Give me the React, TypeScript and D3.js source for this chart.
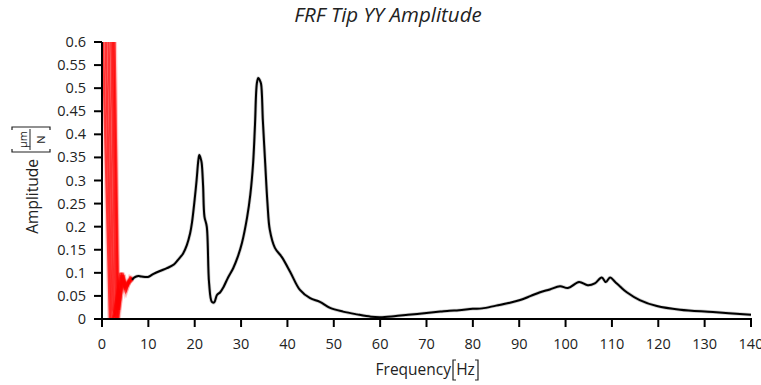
import React from "react";
import * as d3 from "d3";

const title = "FRF Tip YY Amplitude";
const xTicks = [0, 10, 20, 30, 40, 50, 60, 70, 80, 90, 100, 110, 120, 130, 140];
const yTicks = [0, 0.05, 0.1, 0.15, 0.2, 0.25, 0.3, 0.35, 0.4, 0.45, 0.5, 0.55, 0.6];
const yTickLabels = ["0", "0.05", "0.1", "0.15", "0.2", "0.25", "0.3", "0.35", "0.4", "0.45", "0.5", "0.55", "0.6"];

// mean FRF amplitude [frequency Hz, amplitude um/N]
const meanCurve: [number, number][] = [
  [6.5, 0.085], [7.0, 0.09], [7.8, 0.093], [8.5, 0.092], [9.9, 0.091], [11, 0.097],
  [12.5, 0.104], [14, 0.11], [15.5, 0.118], [16.4, 0.128], [17.5, 0.142], [18.3, 0.16],
  [19.0, 0.185], [19.4, 0.208], [20.0, 0.26], [20.4, 0.3], [20.8, 0.345], [21.0, 0.355],
  [21.3, 0.347], [21.5, 0.338], [21.8, 0.29], [22.1, 0.222], [22.6, 0.2], [23.1, 0.078],
  [23.7, 0.037], [24.2, 0.036], [24.8, 0.052], [25.5, 0.058], [26.2, 0.069], [27.2, 0.09],
  [28.3, 0.11], [29.3, 0.135], [30.2, 0.165], [31.3, 0.22], [32.0, 0.27], [32.6, 0.338],
  [33.0, 0.42], [33.4, 0.51], [33.7, 0.522], [34.0, 0.518], [34.3, 0.51], [34.7, 0.43],
  [35.2, 0.338], [35.7, 0.25], [36.2, 0.193], [37.3, 0.154], [38.8, 0.134], [40.6, 0.102],
  [42.7, 0.063], [44.9, 0.045], [47.0, 0.037], [49.2, 0.024], [52, 0.016], [55, 0.01],
  [58, 0.005], [60, 0.004], [63, 0.006], [66, 0.009], [70, 0.013], [73, 0.016], [75, 0.018],
  [77, 0.019], [80, 0.022], [82, 0.023], [85, 0.029], [88, 0.035], [90.2, 0.041],
  [92.5, 0.05], [94.5, 0.058], [96.6, 0.064], [98.8, 0.071], [100.5, 0.067], [102.9, 0.08],
  [104.8, 0.073], [106.3, 0.077], [107.8, 0.09], [108.7, 0.08], [109.6, 0.09], [110.7, 0.08],
  [111.8, 0.07], [113.2, 0.058], [116, 0.041], [119.7, 0.028], [124.7, 0.02], [131.8, 0.015],
  [140, 0.009],
];

// low-frequency scatter of the individual measurements
const redTraceA: [number, number][] = [[0, 0.75], [0.2, 0.6], [1.7, 0.0], [2.4, 0.0], [4.0, 0.1], [4.8, 0.07], [5.5, 0.075], [6.5, 0.088]];
const redTraceB: [number, number][] = [[0, 0.85], [0.8, 0.6], [2.1, 0.0], [2.8, 0.01], [4.2, 0.095], [4.9, 0.068], [5.6, 0.078], [6.5, 0.086]];
const redTraceC: [number, number][] = [[0, 1.0], [1.4, 0.6], [2.5, 0.02], [3.0, 0.0], [4.3, 0.09], [5.0, 0.07], [5.8, 0.08], [6.5, 0.09]];
const redTraceD: [number, number][] = [[0, 1.1], [2.0, 0.6], [3.0, 0.0], [3.3, 0.0], [4.4, 0.1], [5.1, 0.062], [5.9, 0.082], [6.5, 0.087]];
const redTraceE: [number, number][] = [[0, 1.2], [2.4, 0.6], [3.4, 0.03], [3.6, 0.02], [4.5, 0.085], [5.2, 0.075], [6.0, 0.085], [6.5, 0.085]];
const redTraceF: [number, number][] = [[0, 1.3], [2.7, 0.6], [3.5, 0.0], [3.8, 0.03], [4.6, 0.095], [5.3, 0.065], [6.1, 0.09], [6.5, 0.088]];
const redTraces = [redTraceA, redTraceB, redTraceC, redTraceD, redTraceE, redTraceF];

export default function App() {
  const W = 761, H = 385;
  const left = 102, right = 751, top = 42, bottom = 319;
  const x = d3.scaleLinear().domain([0, 140]).range([left, right]);
  const y = d3.scaleLinear().domain([0, 0.6]).range([bottom, top]);
  const line = d3.line<[number, number]>().x(d => x(d[0])).y(d => y(d[1])).curve(d3.curveCatmullRom.alpha(0.5));
  const redLine = d3.line<[number, number]>().x(d => x(d[0])).y(d => y(d[1]));
  const font = "'Open Sans', sans-serif";

  return (
    <svg width={W} height={H} style={{ position: "absolute", left: 0, top: 0, background: "#fff" }} fontFamily={font}>
      <defs>
        <clipPath id="plot">
          <rect x={left} y={top} width={right - left} height={bottom - top} />
        </clipPath>
      </defs>
      <text x={388} y={22} textAnchor="middle" fontSize={20.5} fontStyle="italic" fill="#222">{title}</text>

      <g clipPath="url(#plot)">
        {redTraces.map((t, i) => (
          <path key={"w" + i} d={redLine(t) || ""} fill="none" stroke="#ff0000" strokeOpacity={0.2} strokeWidth={5} />
        ))}
        {redTraces.map((t, i) => (
          <path key={i} d={redLine(t) || ""} fill="none" stroke="#ff0000" strokeOpacity={0.7} strokeWidth={2.4} />
        ))}
        <path d={line(meanCurve) || ""} fill="none" stroke="#000" strokeOpacity={0.2} strokeWidth={3.5} />
        <path d={line(meanCurve) || ""} fill="none" stroke="#000" strokeWidth={2} />
      </g>

      {/* axes */}
      <line x1={left} x2={left} y1={top} y2={bottom + 1} stroke="#000" strokeWidth={2} />
      <line x1={left - 1} x2={right + 1} y1={bottom} y2={bottom} stroke="#000" strokeWidth={2} />
      {yTicks.map((t, i) => (
        <g key={t}>
          <line x1={left - 8} x2={left} y1={y(t)} y2={y(t)} stroke="#000" strokeWidth={2} />
          <text x={left - 16} y={y(t) + 5} textAnchor="end" fontSize={14.5} fill="#222">{yTickLabels[i]}</text>
        </g>
      ))}
      {xTicks.map(t => (
        <g key={t}>
          <line x1={x(t)} x2={x(t)} y1={bottom} y2={bottom + 8} stroke="#000" strokeWidth={2} />
          <text x={x(t)} y={349} textAnchor="middle" fontSize={14.5} fill="#222">{t}</text>
        </g>
      ))}

      {/* x label */}
      <text x={451} y={375} textAnchor="end" fontSize={15.5} fill="#222">Frequency</text>
      <path d="M456,360 H453 V380 H456 M475,360 H478 V380 H475" fill="none" stroke="#222" strokeWidth={1.2} />
      <text x={465.5} y={375} textAnchor="middle" fontSize={15.5} fill="#222">Hz</text>

      {/* y label */}
      <g transform="rotate(-90)">
        <text x={-159} y={38} textAnchor="end" fontSize={15.5} fill="#222">Amplitude</text>
        <path d="M-149,12 H-152 V50 H-149 M-130,12 H-127 V50 H-130" fill="none" stroke="#222" strokeWidth={1.2} />
        <line x1={-150} x2={-129} y1={30} y2={30} stroke="#222" strokeWidth={1} />
        <text x={-139.5} y={27} textAnchor="middle" fontSize={11} fill="#222">µm</text>
        <text x={-139.5} y={45} textAnchor="middle" fontSize={11} fill="#222">N</text>
      </g>
    </svg>
  );
}
